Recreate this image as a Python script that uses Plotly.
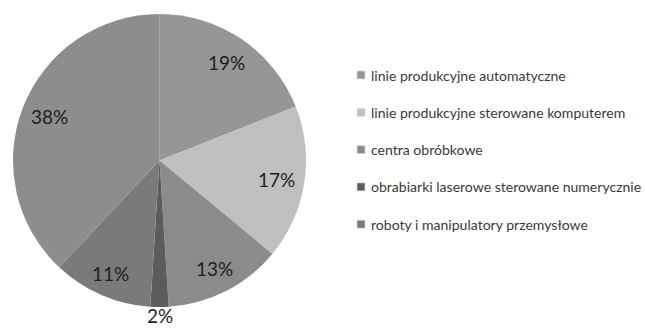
import math
import plotly.graph_objects as go

# Udział poszczególnych grup urządzeń (%)
categories = [
    "linie produkcyjne automatyczne",
    "linie produkcyjne sterowane komputerem",
    "centra obróbkowe",
    "obrabiarki laserowe sterowane numerycznie",
    "roboty i manipulatory przemysłowe",
    "pozostałe",
]
shares = [19, 17, 13, 2, 11, 38]
colors = ["#969696", "#bfbfbf", "#8b8b8b", "#5c5c5c", "#7a7a7a", "#8d8d8d"]
legend_items = categories[:5]
# promień etykiety jako ułamek promienia koła (wąski wycinek – etykieta na zewnątrz)
label_radius = [0.81, 0.81, 0.83, 1.058, 0.84, 0.81]

W, H = 645, 329
cx, cy, R = 159.5, 160.5, 146.5

fig = go.Figure()
fig.add_trace(go.Pie(
    labels=categories,
    values=shares,
    sort=False,
    direction="clockwise",
    rotation=0,
    marker=dict(colors=colors, line=dict(width=0)),
    textinfo="none",
    showlegend=False,
    hoverinfo="label+percent",
    domain=dict(x=[(cx - R) / W, (cx + R) / W], y=[1 - (cy + R) / H, 1 - (cy - R) / H]),
))

annotations = []
# Etykiety procentowe w środku kąta każdego wycinka
total = sum(shares)
acc = 0
for v, rf in zip(shares, label_radius):
    mid = 2 * math.pi * (acc + v / 2) / total
    acc += v
    px = cx + rf * R * math.sin(mid)
    py = cy - rf * R * math.cos(mid)
    annotations.append(dict(
        x=px / W, y=1 - py / H, xref="paper", yref="paper",
        text=f"{v}%", showarrow=False, xanchor="center", yanchor="middle",
        font=dict(family="Lato", size=19, color="#1e1e1e"),
    ))

# Legenda: kwadratowe znaczniki i opisy
shapes = []
x0, y0, step, sw = 357, 75, 37.3, 8
for i, name in enumerate(legend_items):
    y = y0 + i * step
    shapes.append(dict(
        type="rect", xref="paper", yref="paper",
        x0=x0 / W, x1=(x0 + sw) / W,
        y0=1 - (y + sw / 2) / H, y1=1 - (y - sw / 2) / H,
        fillcolor=colors[i], line=dict(width=0.6, color="#e0e0e0"),
    ))
    annotations.append(dict(
        x=(x0 + sw + 4) / W, y=1 - y / H, xref="paper", yref="paper",
        text=name, showarrow=False, xanchor="left", yanchor="middle",
        font=dict(family="Lato", size=14.05, color="#3a3a3a"),
    ))

fig.update_layout(
    width=W, height=H,
    margin=dict(l=0, r=0, t=0, b=0),
    paper_bgcolor="white",
    plot_bgcolor="white",
    shapes=shapes,
    annotations=annotations,
)
fig.write_html("out.html")
